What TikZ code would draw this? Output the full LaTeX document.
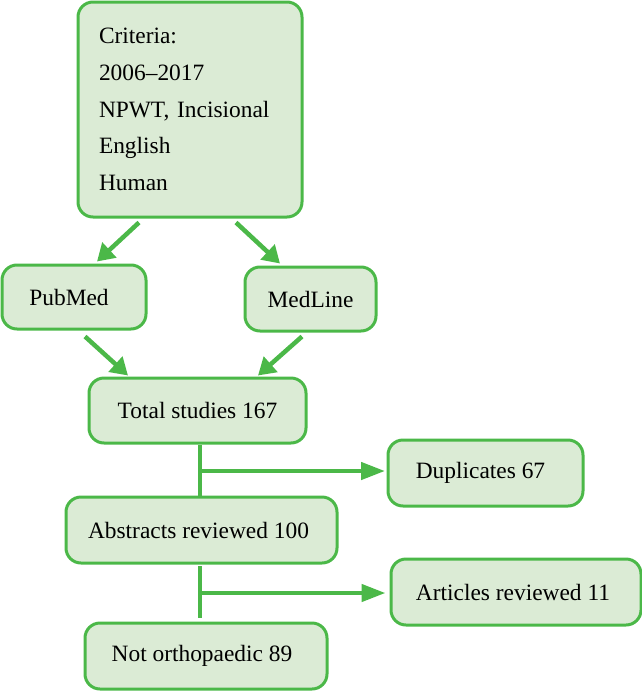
\documentclass[tikz,border=0pt]{standalone}
\usepackage{fontspec}
\setmainfont{Liberation Serif}
\usetikzlibrary{arrows.meta,calc}
\definecolor{gline}{RGB}{75,184,72}
\definecolor{gfill}{RGB}{219,235,213}
\tikzset{
  box/.style={draw=gline,fill=gfill,line width=3pt,rounded corners=15pt,inner sep=0pt,
    font=\fontsize{23.4}{36.7}\selectfont,text=black},
  conn/.style={draw=gline,line width=4.5pt},
  darr/.style={conn,-{Triangle[length=17pt,width=20pt]}},
  harr/.style={conn,-{Triangle[length=24pt,width=17pt]}}
}
\begin{document}
\begin{tikzpicture}[x=1pt,y=-1pt]
\useasboundingbox (0,0) rectangle (642,691);
\node[box,minimum width=224pt,minimum height=215pt,text width=182pt,align=left,inner xsep=21pt] (crit) at (190,109.5)
  {Criteria:\\2006–2017\\NPWT, Incisional\\English\\Human};
\node[box,minimum width=144pt,minimum height=64pt] (pub) at (74,297) {\hspace*{-10pt}PubMed};
\node[box,minimum width=131pt,minimum height=64pt] (med) at (310.5,299) {MedLine};
\node[box,minimum width=217pt,minimum height=65pt] (tot) at (197.5,410.5) {Total studies 167};
\node[box,minimum width=195pt,minimum height=66pt] (dup) at (485.5,473) {\hspace*{-10pt}Duplicates 67};
\node[box,minimum width=271pt,minimum height=66pt] (abs) at (201.5,530) {\hspace*{-6pt}Abstracts reviewed 100};
\node[box,minimum width=250pt,minimum height=66pt] (art) at (516,592) {\hspace*{-6pt}Articles reviewed 11};
\node[box,minimum width=242pt,minimum height=66pt] (not) at (206,656) {\hspace*{-8pt}Not orthopaedic 89};
\coordinate (j1) at (200,471);
\coordinate (j2) at (200,593);
\coordinate (j2top) at (200,566);
\coordinate (j2bot) at (200,618);
\draw[darr] ([shift={(-51,4)}]crit.south) -- ([shift={(23,-2)}]pub.north);
\draw[darr] ([shift={(46,4)}]crit.south) -- ([shift={(-30.5,-2)}]med.north);
\draw[darr] ([shift={(11,6)}]pub.south) -- ([shift={(-69.5,-1)}]tot.north);
\draw[darr] ([shift={(-8.5,4)}]med.south) -- ([shift={(60.5,-1)}]tot.north);
\draw[conn] (tot.south -| j1) -- (abs.north -| j1);
\draw[harr] (j1) -- ([xshift=-1.5pt]j1 -| dup.west);
\draw[conn] (j2top) -- (j2bot);
\draw[harr] (j2) -- ([xshift=-4pt]j2 -| art.west);
\end{tikzpicture}
\end{document}
